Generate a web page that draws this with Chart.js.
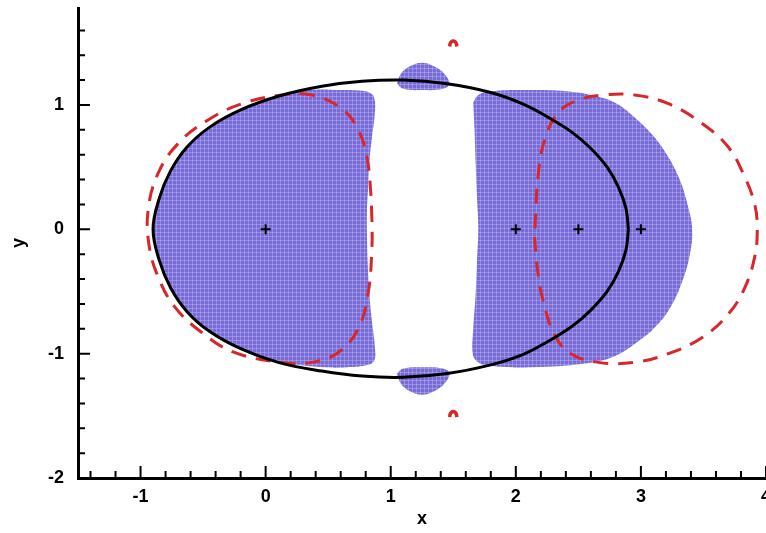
<!DOCTYPE html>
<html>
<head>
<meta charset="utf-8">
<script src="https://cdn.jsdelivr.net/npm/chart.js@4.4.1/dist/chart.umd.min.js"></script>
<style>
  html, body { margin: 0; padding: 0; background: #fff; overflow: hidden; }
  /* a bit wider than the window so the "4" label gets cut at the right edge */
  #wrap { width: 773px; height: 533px; }
</style>
</head>
<body>
<div id="wrap"><canvas id="plot"></canvas></div>
<script>
// axis ticks
const xTickValues = [-1, 0, 1, 2, 3, 4];
const yTickValues = [-2, -1, 0, 1];

// solid black contour
const blackCurve = [
  [2.90, 0], [2.88, 0.17], [2.82, 0.34], [2.73, 0.50], [2.60, 0.65], [2.45, 0.78], [2.26, 0.90],
  [2.05, 1.01], [1.80, 1.10], [1.45, 1.17], [1.10, 1.20], [0.77, 1.19], [0.45, 1.15], [0.10, 1.07],
  [-0.20, 0.96], [-0.45, 0.82], [-0.63, 0.66], [-0.76, 0.47], [-0.85, 0.25], [-0.90, 0],
  [-0.85, -0.25], [-0.76, -0.47], [-0.63, -0.66], [-0.45, -0.82], [-0.20, -0.96], [0.10, -1.07],
  [0.45, -1.14], [0.77, -1.18], [1.10, -1.19], [1.45, -1.16], [1.80, -1.09], [2.05, -1.01],
  [2.26, -0.90], [2.45, -0.78], [2.60, -0.65], [2.73, -0.50], [2.82, -0.34], [2.88, -0.17], [2.90, 0]
];

// red dashed contours
const redLeft = [
  [0.85, 0.07], [0.84, 0.30], [0.81, 0.58], [0.74, 0.80], [0.61, 0.97], [0.37, 1.08],
  [0.13, 1.08], [-0.19, 1.01], [-0.46, 0.88], [-0.70, 0.69], [-0.86, 0.45], [-0.94, 0.15],
  [-0.93, -0.14], [-0.86, -0.38], [-0.73, -0.62], [-0.51, -0.83], [-0.25, -0.99], [0.13, -1.07],
  [0.37, -1.07], [0.58, -0.99], [0.74, -0.80], [0.82, -0.51], [0.85, -0.14], [0.85, 0.07]
];
const redRight = [
  [2.15, -0.06], [2.17, -0.30], [2.21, -0.54], [2.31, -0.85], [2.44, -1.00], [2.66, -1.07],
  [2.95, -1.07], [3.22, -1.00], [3.49, -0.87], [3.70, -0.68], [3.83, -0.47], [3.91, -0.22],
  [3.93, 0.00], [3.91, 0.20], [3.83, 0.42], [3.70, 0.66], [3.49, 0.85], [3.22, 1.01],
  [2.95, 1.08], [2.70, 1.08], [2.50, 1.04], [2.35, 0.95], [2.24, 0.75], [2.18, 0.45], [2.15, -0.06]
];
const redTopArc = [[1.472, 1.47], [1.474, 1.49], [1.485, 1.508], [1.50, 1.514], [1.515, 1.508], [1.526, 1.49], [1.528, 1.47]];
const redBottomArc = [[1.472, -1.51], [1.474, -1.49], [1.485, -1.472], [1.50, -1.466], [1.515, -1.472], [1.526, -1.49], [1.528, -1.51]];

// blue filled regions
const blueLeft = [
  [0.86, 1.08], [0.875, 1.02], [0.87, 0.90], [0.85, 0.74], [0.83, 0.55], [0.82, 0.35], [0.81, 0.15],
  [0.81, -0.05], [0.815, -0.25], [0.825, -0.45], [0.84, -0.65], [0.86, -0.82], [0.875, -0.97],
  [0.87, -1.05], [0.82, -1.09], [0.65, -1.11], [0.47, -1.11], [0.25, -1.09], [0.10, -1.07],
  [-0.20, -0.96], [-0.45, -0.82], [-0.63, -0.66], [-0.76, -0.47], [-0.85, -0.25], [-0.90, 0],
  [-0.85, 0.25], [-0.76, 0.47], [-0.63, 0.66], [-0.45, 0.82], [-0.20, 0.96], [0.10, 1.07],
  [0.35, 1.12], [0.60, 1.12], [0.80, 1.11], [0.86, 1.08]
];
const blueRight = [
  [1.66, 1.02], [1.70, 1.08], [1.80, 1.11], [2.13, 1.12], [2.40, 1.11], [2.60, 1.08], [2.79, 1.02],
  [2.95, 0.90], [3.10, 0.75], [3.22, 0.58], [3.31, 0.40], [3.37, 0.21], [3.41, 0], [3.39, -0.21],
  [3.33, -0.42], [3.24, -0.62], [3.12, -0.78], [2.98, -0.90], [2.79, -1.02], [2.55, -1.08],
  [2.13, -1.11], [1.80, -1.10], [1.70, -1.07], [1.655, -1.00], [1.66, -0.80], [1.68, -0.50],
  [1.69, -0.25], [1.70, 0], [1.69, 0.25], [1.68, 0.50], [1.67, 0.80], [1.66, 1.02]
];
const blueTop = [
  [1.05, 1.17], [1.08, 1.25], [1.15, 1.31], [1.25, 1.34], [1.35, 1.31], [1.43, 1.25], [1.47, 1.17],
  [1.42, 1.13], [1.25, 1.12], [1.10, 1.13], [1.05, 1.17]
];
const blueBottom = [
  [1.05, -1.16], [1.10, -1.12], [1.25, -1.11], [1.42, -1.12], [1.47, -1.16], [1.43, -1.24],
  [1.35, -1.30], [1.25, -1.33], [1.15, -1.30], [1.08, -1.24], [1.05, -1.16]
];

// "+" markers
const markers = [[0, 0], [2, 0], [2.5, 0], [3, 0]];

const pts = arr => arr.map(([x, y]) => ({ x, y }));

// mesh-like fill texture
const tile = document.createElement('canvas');
tile.width = 4; tile.height = 4;
const tctx = tile.getContext('2d');
tctx.fillStyle = '#776bd7';
tctx.fillRect(0, 0, 4, 4);
tctx.fillStyle = 'rgba(200,195,245,0.4)';
tctx.fillRect(0, 0, 4, 1);
tctx.fillRect(0, 0, 1, 4);
const blueFill = tctx.createPattern(tile, 'repeat');

const RED = '#d8262b';

const blob = data => ({
  data: pts(data), showLine: true, fill: 'shape', backgroundColor: blueFill,
  borderWidth: 0, borderColor: 'rgba(0,0,0,0)', pointRadius: 0, tension: 0.4, order: 5
});
const dashed = data => ({
  data: pts(data), showLine: true, fill: false, borderColor: RED, borderWidth: 3,
  borderDash: [15, 10], pointRadius: 0, tension: 0.4, order: 3
});
const arc = data => ({
  data: pts(data), showLine: true, fill: false, borderColor: RED, borderWidth: 3.5,
  pointRadius: 0, tension: 0.4, order: 3
});

// inward minor/major tick marks
const innerTicks = {
  id: 'innerTicks',
  afterDraw(chart) {
    const { ctx, scales: { x, y } } = chart;
    const x0 = x.getPixelForValue(x.min);
    const y0 = y.getPixelForValue(y.min);
    ctx.save();
    ctx.strokeStyle = '#000';
    ctx.lineWidth = 2;
    ctx.beginPath();
    for (let i = -7; i <= 20; i++) {
      const px = x.getPixelForValue(i / 5);
      const len = i % 5 === 0 ? 12 : 7;
      ctx.moveTo(px, y0);
      ctx.lineTo(px, y0 - len);
    }
    for (let i = -9; i <= 8; i++) {
      const py = y.getPixelForValue(i / 5);
      const len = i % 5 === 0 ? 12 : 7;
      ctx.moveTo(x0, py);
      ctx.lineTo(x0 + len, py);
    }
    ctx.stroke();
    ctx.restore();
  }
};

Chart.defaults.font.family = "'Liberation Sans', Arial, sans-serif";
Chart.defaults.font.weight = 'bold';
Chart.defaults.font.size = 18;
Chart.defaults.color = '#000';

new Chart(document.getElementById('plot'), {
  type: 'scatter',
  data: {
    datasets: [
      { data: pts(markers), pointStyle: 'cross', pointRadius: 5, borderColor: '#000', borderWidth: 2, order: 1 },
      { data: pts(blackCurve), showLine: true, fill: false, borderColor: '#000', borderWidth: 3, pointRadius: 0, tension: 0.4, order: 2 },
      dashed(redLeft),
      dashed(redRight),
      arc(redTopArc),
      arc(redBottomArc),
      blob(blueLeft),
      blob(blueRight),
      blob(blueTop),
      blob(blueBottom)
    ]
  },
  options: {
    responsive: true,
    maintainAspectRatio: false,
    animation: false,
    layout: { padding: { top: 8, right: 0, left: 0, bottom: 0 } },
    plugins: { legend: { display: false }, tooltip: { enabled: false } },
    scales: {
      x: {
        type: 'linear', min: -1.5, max: 4,
        grid: { display: false },
        border: { display: true, color: '#000', width: 3 },
        ticks: { padding: 0 },
        afterBuildTicks: s => { s.ticks = xTickValues.map(v => ({ value: v })); },
        afterFit: s => { s.height = 55; },
        title: { display: true, text: 'x', padding: { top: 0, bottom: 3 } }
      },
      y: {
        type: 'linear', min: -2, max: 1.78,
        grid: { display: false },
        border: { display: true, color: '#000', width: 3 },
        ticks: { padding: 6 },
        afterBuildTicks: s => { s.ticks = yTickValues.map(v => ({ value: v })); },
        afterFit: s => { s.width = 78; s.paddingTop = 0; s.paddingBottom = 0; },
        title: { display: true, text: 'y', padding: { top: 8, bottom: 0 } }
      }
    }
  },
  plugins: [innerTicks]
});
</script>
</body>
</html>
